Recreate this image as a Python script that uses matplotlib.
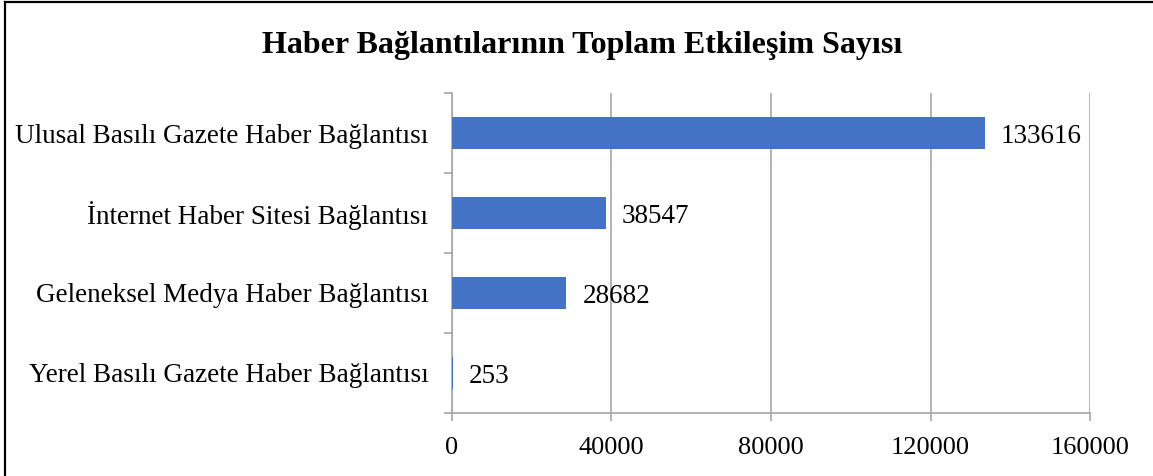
import matplotlib.pyplot as plt
from matplotlib.lines import Line2D

categories = [
    "Ulusal Basılı Gazete Haber Bağlantısı",
    "İnternet Haber Sitesi Bağlantısı",
    "Geleneksel Medya Haber Bağlantısı",
    "Yerel Basılı Gazete Haber Bağlantısı",
]
values = [133616, 38547, 28682, 253]
x_ticks = [0, 40000, 80000, 120000, 160000]

plt.rcParams['font.family'] = ['Liberation Serif', 'DejaVu Serif']

fig = plt.figure(figsize=(11.53, 4.76), dpi=100)
ax = fig.add_axes([0.392, 0.1324, 0.5534, 0.6722])

grid_col = '#A6A6A6'
pos = list(range(len(categories)))
ax.barh(pos, values, height=0.4, color='#4472C4', zorder=3)

for p, v in zip(pos, values):
    ax.annotate(str(v), (v, p), xytext=(11.5, -2.5), textcoords='offset points',
                va='center', ha='left', fontsize=19.5)

ax.set_xlim(0, 160000)
ax.set_ylim(len(categories) - 0.5, -0.5)
ax.set_xticks(x_ticks)
ax.set_xticklabels([str(t) for t in x_ticks], fontsize=19)
ax.xaxis.grid(True, color=grid_col, linewidth=1.2, zorder=0)

# category labels at centres, ticks on the boundaries
ax.set_yticks([p - 0.5 for p in pos] + [len(pos) - 0.5])
ax.set_yticklabels([])
ax.set_yticks(pos, minor=True)
ax.set_yticklabels(categories, minor=True, fontsize=19.5, va='center_baseline')
ax.tick_params(axis='y', which='major', length=5.5, color=grid_col, width=1.2)
ax.tick_params(axis='y', which='minor', length=0, pad=17)
ax.tick_params(axis='x', length=6, color=grid_col, width=1.2, pad=11)

for s in ['top', 'right']:
    ax.spines[s].set_visible(False)
for s in ['left', 'bottom']:
    ax.spines[s].set_color(grid_col)
    ax.spines[s].set_linewidth(1.2)

fig.text(0.505, 0.905, "Haber Bağlantılarının Toplam Etkileşim Sayısı",
         ha='center', va='center', fontsize=23, fontweight='bold')

# outer frame (top and left edges visible)
fig.add_artist(Line2D([5 / 1153, 5 / 1153], [0, 1 - 2 / 476], color='black', linewidth=1.6))
fig.add_artist(Line2D([5 / 1153, 1], [1 - 2 / 476, 1 - 2 / 476], color='black', linewidth=1.6))

fig.savefig('out.png', dpi=100)
